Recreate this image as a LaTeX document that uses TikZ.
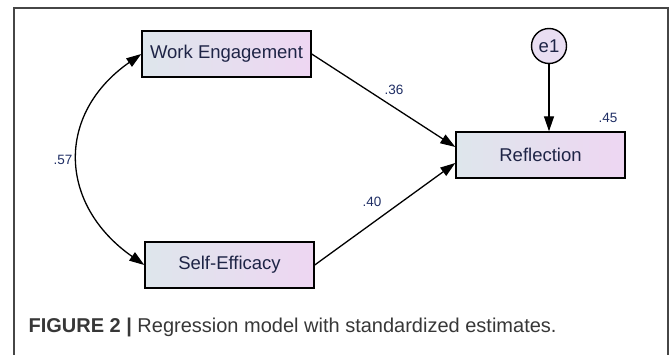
\documentclass[tikz,border=0pt]{standalone}
\usepackage{fontspec}
\setmainfont{Liberation Sans}
\usepackage{tikz}
\usetikzlibrary{arrows.meta,shapes}
\definecolor{boxleft}{RGB}{222,230,236}
\definecolor{boxright}{RGB}{238,214,242}
\definecolor{errfill}{RGB}{233,222,242}
\definecolor{navy}{RGB}{30,36,70}
\definecolor{estblue}{RGB}{30,45,100}
\definecolor{framegray}{RGB}{70,70,70}
\definecolor{capgray}{RGB}{55,55,55}
\tikzstyle{var}=[rectangle,draw=black,line width=1.4pt,left color=boxleft,right color=boxright,minimum width=169pt,minimum height=46pt,inner sep=0pt,text=navy,font=\fontsize{18.5}{21}\selectfont]
\tikzstyle{err}=[circle,draw=black,line width=1.4pt,fill=errfill,minimum size=35pt,inner sep=0pt,text=navy,font=\fontsize{18.5}{21}\selectfont]
\tikzstyle{est}=[text=estblue,font=\fontsize{13.5}{15}\selectfont]
\tikzstyle{reg edge}=[draw,line width=1.3pt,-{Triangle[length=15pt,width=10pt]}]
\tikzstyle{cov edge}=[draw,line width=1.3pt,{Triangle[length=15pt,width=10pt]}-{Triangle[length=15pt,width=10pt]}]

\begin{document}
\begin{tikzpicture}[x=1pt,y=1pt]
        \useasboundingbox (0,0) rectangle (669,354);
        \draw[framegray,line width=1.4pt] (14,-5) |- (668,346) -- (668,-5);
        \node[var] (we) at (226.5,300) {Work Engagement};
        \node[var] (se) at (229.5,89) {Self-Efficacy};
        \node[var] (refl) at (540.5,199) {Reflection};
        \node[err] (e1) at (549,308) {e1};
        \draw[reg edge] (we.east) to ([yshift=8pt]refl.west);
        \draw[reg edge] (se.east) to ([yshift=-8pt]refl.west);
        \draw[reg edge] (e1) to (e1 |- refl.north);
        \draw[cov edge] (we.west) to[out=215,in=145,looseness=1.27] (se.west);
        \node[est] (b1) at (394,264) {.36};
        \node[est] (b2) at (372,152) {.40};
        \node[est] (r1) at (63,194) {.57};
        \node[est] (r2) at (608,236) {.45};
        \node[anchor=west,text=capgray,font=\fontsize{20}{24}\selectfont] (cap) at (25,27)
          {\textbf{FIGURE 2 |} Regression model with standardized estimates.};
      \end{tikzpicture}
\end{document}
